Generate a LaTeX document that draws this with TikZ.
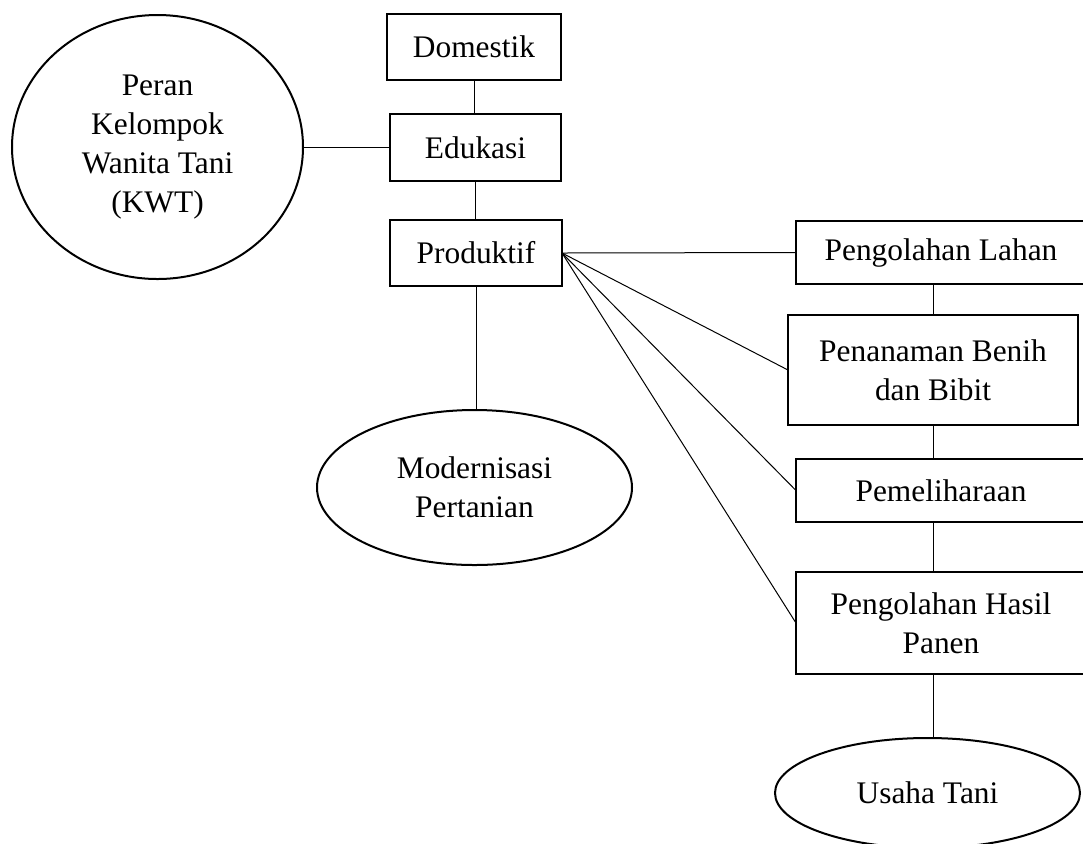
\documentclass[tikz,border=0pt]{standalone}
\usepackage{fontspec}
\setmainfont{Liberation Serif}
\usetikzlibrary{shapes.geometric}
\tikzset{
  base/.style={inner sep=0pt, outer sep=0pt, align=center,
    font=\fontsize{15.7}{19.6}\selectfont},
  box/.style={base, draw, rectangle, line width=1.2pt},
  oval/.style={base, draw, ellipse, line width=1pt},
  link/.style={line width=0.5pt}
}
\begin{document}
\begin{tikzpicture}[x=0.5pt, y=-0.5pt]
\useasboundingbox (0,0) rectangle (1083,843);
\clip (0,0) rectangle (1083,843);
\node[box, minimum width=87pt, minimum height=33pt] (dom) at (474,47) {Domestik};
\node[box, minimum width=85.5pt, minimum height=33.5pt] (edu) at (475.5,147.5) {Edukasi};
\node[box, minimum width=86pt, minimum height=33pt] (prod) at (476,253) {Produktif};
\node[oval, minimum width=145.5pt, minimum height=132pt] (circ) at (157.5,147) {Peran\\Kelompok\\Wanita Tani\\(KWT)};
\node[oval, minimum width=157.5pt, minimum height=77.5pt] (mod) at (474.5,487.5) {Modernisasi\\Pertanian};
\node[box, minimum width=145pt, minimum height=31.5pt] (lahan) at (941,252.5) {Pengolahan Lahan};
\node[box, minimum width=145pt, minimum height=55pt] (benih) at (933,370) {Penanaman Benih\\dan Bibit};
\node[box, minimum width=145pt, minimum height=31.5pt] (pel) at (941,490.5) {Pemeliharaan};
\node[box, minimum width=145pt, minimum height=51pt] (hasil) at (941,623) {Pengolahan Hasil\\Panen};
\node[oval, minimum width=152.5pt, minimum height=55pt] (usaha) at (927.5,793) {Usaha Tani};

\draw[link] (dom.south) -- (dom.south |- edu.north);
\draw[link] (edu.south) -- (edu.south |- prod.north);
\draw[link] (edu.west) -- (edu.west -| circ.east);
\draw[link] (prod.south) -- (prod.south |- mod.north);
\draw[link] (prod.east) -- (lahan.west);
\draw[link] (prod.east) -- (benih.west);
\draw[link] (prod.east) -- (pel.west);
\draw[link] (prod.east) -- (hasil.west);
\draw[link] (lahan.south -| benih.north) -- (benih.north);
\draw[link] (benih.south) -- (benih.south |- pel.north);
\draw[link] (benih.south |- pel.south) -- (benih.south |- hasil.north);
\draw[link] (benih.south |- hasil.south) -- (benih.south |- usaha.north);
\end{tikzpicture}
\end{document}
